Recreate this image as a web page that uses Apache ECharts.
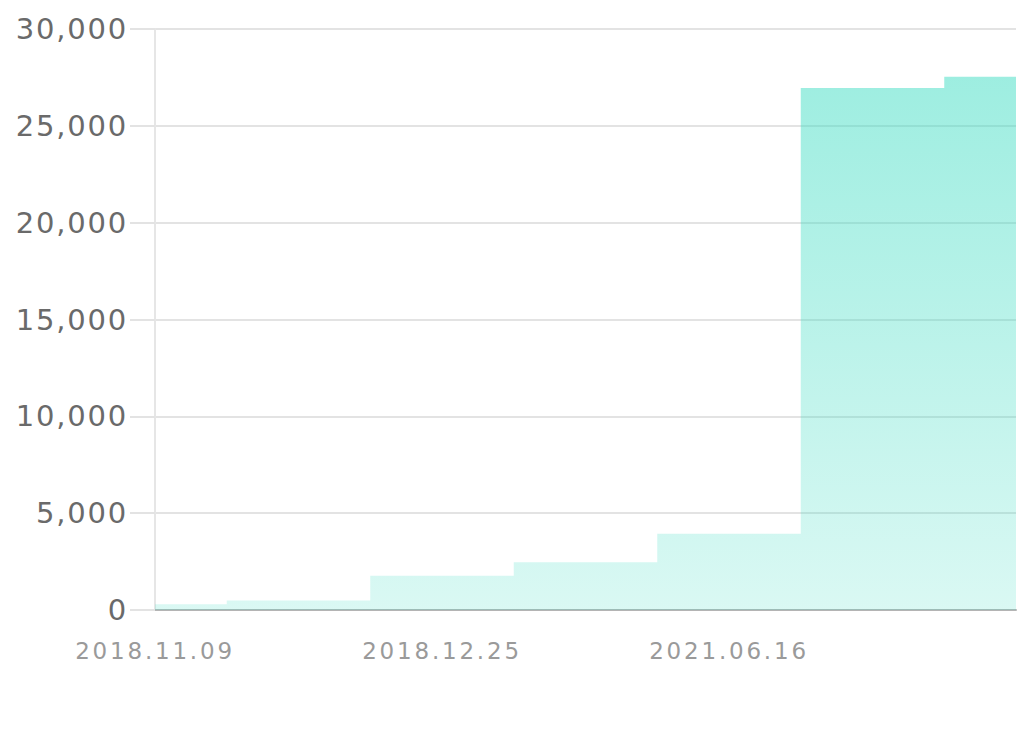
<!DOCTYPE html>
<html>
<head>
<meta charset="utf-8">
<script src="https://cdn.jsdelivr.net/npm/echarts@6/dist/echarts.min.js"></script>
<style>
  html, body { margin: 0; padding: 0; background: #ffffff; }
  #main { width: 1024px; height: 732px; }
  #main text[fill="#6a6a6a"] { letter-spacing: 1.8px; }
  #main text[fill="#9a9a9a"] { letter-spacing: 2.8px; }
</style>
</head>
<body>
<div id="main"></div>
<script>
const categories = ['2018.11.09', '2018.11.30', '2018.12.25', '2019.06.20', '2021.06.16', '2022.01.10', '2022.05.20'];
const values = [300, 490, 1770, 2460, 3940, 26950, 27530];
const yTicks = { min: 0, max: 30000, interval: 5000 };

const chart = echarts.init(document.getElementById('main'), null, { renderer: 'svg' });
chart.setOption({
  animation: false,
  backgroundColor: '#ffffff',
  grid: { left: 155, right: 8, top: 29, bottom: 122, containLabel: false },
  xAxis: {
    type: 'category',
    data: categories,
    boundaryGap: false,
    axisLine: { show: true, lineStyle: { color: '#b4b4b4', width: 2 } },
    axisTick: { show: false },
    axisLabel: {
      color: '#9a9a9a',
      fontFamily: 'DejaVu Sans',
      fontSize: 23,
      margin: 29,
      interval: function (i) { return i % 2 === 0 && i < categories.length - 1; }
    },
    splitLine: { show: false }
  },
  yAxis: {
    type: 'value',
    min: yTicks.min,
    max: yTicks.max,
    interval: yTicks.interval,
    axisLine: { show: true, lineStyle: { color: '#e6e6e6', width: 2 } },
    axisTick: { show: true, length: 25, lineStyle: { color: '#e3e3e3', width: 2 } },
    axisLabel: {
      color: '#6a6a6a',
      fontFamily: 'DejaVu Sans',
      fontSize: 29,
      margin: 27,
      formatter: function (v) { return v.toLocaleString('en-US'); }
    },
    splitLine: { show: true, lineStyle: { color: '#e3e3e3', width: 2 } }
  },
  series: [{
    type: 'line',
    step: 'middle',
    data: values,
    symbol: 'none',
    lineStyle: { width: 0, opacity: 0 },
    areaStyle: {
      opacity: 1,
      color: new echarts.graphic.LinearGradient(0, 0, 0, 1, [
        { offset: 0, color: 'rgba(60,220,194,0.5)' },
        { offset: 1, color: 'rgba(60,220,194,0.19)' }
      ])
    }
  }]
});
</script>
</body>
</html>
